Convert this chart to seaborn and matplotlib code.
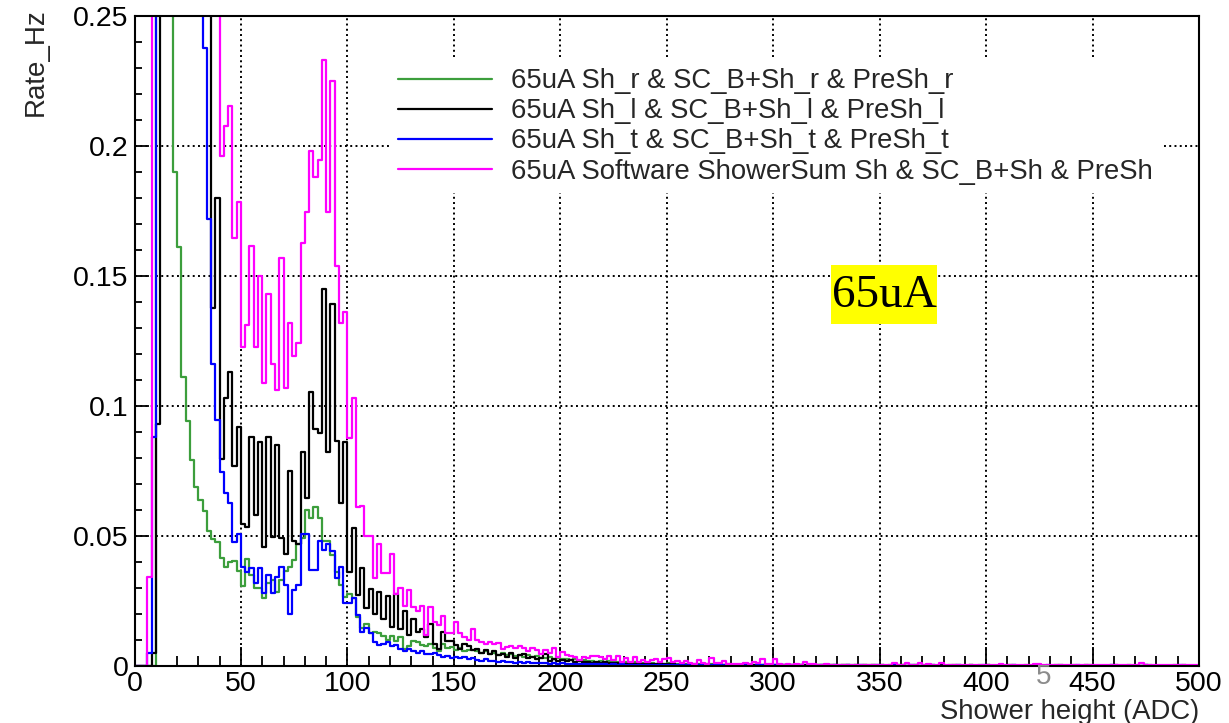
import numpy as np
import pandas as pd
import matplotlib
matplotlib.use("Agg")
import matplotlib.pyplot as plt
from matplotlib.lines import Line2D
from matplotlib.patches import Rectangle
from matplotlib.ticker import MultipleLocator
import seaborn as sns

# Shower height binning: 2 ADC wide bins from 0 to 500
bin_edges = np.arange(0, 502, 2)
bin_centers = bin_edges[:-1] + 1.0

# Rates (Hz) per bin, ten bins per row
rate_sh_r = [
    0, 0, 0, 0, 0, 0.85, 1.10, 0.80, 0.45, 0.190,
    0.161, 0.111, 0.094, 0.079, 0.0686, 0.0637, 0.0596, 0.0519, 0.0486, 0.0476,
    0.0415, 0.0378, 0.0400, 0.0404, 0.0365, 0.0305, 0.0410, 0.0350, 0.0297, 0.0300,
    0.0260, 0.0317, 0.0330, 0.0285, 0.0330, 0.0365, 0.0380, 0.0406, 0.0470, 0.0490,
    0.0600, 0.0567, 0.0610, 0.0570, 0.0480, 0.0478, 0.0426, 0.0360, 0.0310, 0.0265,
    0.0276, 0.0260, 0.0188, 0.0144, 0.0160, 0.0124, 0.0130, 0.0125, 0.0113, 0.0099,
    0.0115, 0.0095, 0.0112, 0.0065, 0.0075, 0.0095, 0.0093, 0.0080, 0.0077, 0.0085,
    0.0068, 0.0058, 0.0085, 0.0068, 0.0072, 0.0062, 0.0068, 0.0055, 0.0060, 0.0062,
    0.0055, 0.0050, 0.0058, 0.0045, 0.0050, 0.0042, 0.0048, 0.0040, 0.0045, 0.0038,
    0.0040, 0.0035, 0.0042, 0.0033, 0.0038, 0.0030, 0.0028, 0.0032, 0.0026, 0.0029,
    0.0024, 0.0027, 0.0021, 0.0025, 0.0019, 0.0022, 0.0018, 0.0020, 0.0016, 0.0019,
    0.0015, 0.0018, 0.0014, 0.0016, 0.0012, 0.0015, 0.0011, 0.0013, 0.0010, 0.0012,
    0.0009, 0.0011, 0.0008, 0.0010, 0.0007, 0.0009, 0.0007, 0.0008, 0.0006, 0.0008,
    0.0006, 0.0007, 0.0005, 0.0006, 0.0005, 0.0006, 0.0004, 0.0005, 0.0004, 0.0005,
    0.0004, 0.0003, 0.0004, 0.0003, 0.0004, 0.0003, 0.0004, 0.0002, 0.0003, 0.0002,
    0.0003, 0.0002, 0.0002, 0.0003, 0.0002, 0.0001, 0.0002, 0.0002, 0.0001, 0.0002,
    0.0001, 0.0002, 0.0001, 0.0001, 0.0002, 0.0001, 0.0001, 0.0001, 0.0002, 0.0001,
    0.0001, 0.0001, 0.0001, 0.0002, 0.0001, 0.0001, 0, 0.0001, 0.0001, 0.0001,
    0.0001, 0, 0.0001, 0.0001, 0, 0.0001, 0, 0.0001, 0, 0.0001,
    0, 0.0001, 0, 0.0001, 0, 0, 0.0001, 0, 0.0001, 0,
    0.0001, 0, 0, 0.0001, 0, 0, 0.0001, 0, 0, 0.0001,
    0, 0, 0.0001, 0, 0, 0, 0.0001, 0, 0, 0,
    0.0001, 0, 0, 0, 0.0001, 0, 0, 0, 0, 0.0001,
    0, 0, 0, 0.0001, 0, 0, 0, 0, 0.0001, 0,
    0, 0, 0, 0, 0.0001, 0, 0, 0, 0, 0,
]

rate_sh_l = [
    0, 0, 0, 0, 0.005, 0.093, 0.75, 1.10, 1.00, 0.80,
    0.62, 0.50, 0.42, 0.36, 0.32, 0.29, 0.27, 0.26, 0.1376, 0.1800,
    0.0795, 0.1030, 0.1130, 0.0770, 0.0920, 0.0545, 0.0532, 0.0878, 0.0580, 0.0860,
    0.0458, 0.0880, 0.0496, 0.0850, 0.0490, 0.0430, 0.0750, 0.0480, 0.0470, 0.0823,
    0.0645, 0.1052, 0.0909, 0.0894, 0.1450, 0.0823, 0.1390, 0.0865, 0.0625, 0.0862,
    0.0362, 0.0528, 0.0272, 0.0375, 0.0222, 0.0294, 0.0200, 0.0285, 0.0180, 0.0270,
    0.0150, 0.0275, 0.0140, 0.0210, 0.0120, 0.0180, 0.0130, 0.0140, 0.0110, 0.0160,
    0.0085, 0.0065, 0.0130, 0.0095, 0.0095, 0.0080, 0.0065, 0.0085, 0.0075, 0.0060,
    0.0065, 0.0050, 0.0060, 0.0045, 0.0055, 0.0040, 0.0045, 0.0035, 0.0050, 0.0030,
    0.0040, 0.0045, 0.0030, 0.0035, 0.0025, 0.0030, 0.0045, 0.0020, 0.0025, 0.0020,
    0.0022, 0.0018, 0.0022, 0.0015, 0.0018, 0.0014, 0.0016, 0.0012, 0.0015, 0.0011,
    0.0013, 0.0010, 0.0012, 0.0009, 0.0011, 0.0008, 0.0010, 0.0007, 0.0009, 0.0006,
    0.0008, 0.0006, 0.0007, 0.0005, 0.0006, 0.0005, 0.0005, 0.0004, 0.0005, 0.0004,
    0.0003, 0.0004, 0.0003, 0.0003, 0.0004, 0.0002, 0.0003, 0.0003, 0.0002, 0.0003,
    0.0002, 0.0003, 0.0002, 0.0002, 0.0003, 0.0002, 0.0002, 0.0001, 0.0002, 0.0002,
    0.0001, 0.0002, 0.0001, 0.0001, 0.0002, 0.0001, 0.0001, 0.0001, 0.0002, 0.0001,
    0.0001, 0.0001, 0, 0.0001, 0.0001, 0, 0.0001, 0.0001, 0, 0.0001,
    0, 0.0001, 0, 0.0001, 0, 0.0001, 0, 0, 0.0001, 0,
    0.0001, 0, 0, 0.0001, 0, 0, 0.0001, 0, 0, 0.0001,
    0, 0, 0.0001, 0, 0, 0, 0.0001, 0, 0, 0,
    0.0001, 0, 0, 0, 0, 0.0001, 0, 0, 0, 0,
    0, 0.0001, 0, 0, 0, 0, 0, 0.0001, 0, 0,
    0, 0, 0, 0.0001, 0, 0, 0, 0, 0, 0,
    0.0001, 0, 0, 0, 0, 0, 0, 0.0001, 0, 0,
    0, 0, 0, 0, 0, 0, 0.0001, 0, 0, 0,
]

rate_sh_t = [
    0, 0, 0, 0.005, 0.088, 0.90, 1.30, 1.20, 0.95, 0.75,
    0.60, 0.50, 0.42, 0.36, 0.31, 0.27, 0.2375, 0.172, 0.116, 0.0945,
    0.0745, 0.0666, 0.0624, 0.0475, 0.0506, 0.0380, 0.0360, 0.0375, 0.0320, 0.0374,
    0.0278, 0.0350, 0.0278, 0.0340, 0.0380, 0.0310, 0.0200, 0.0290, 0.0310, 0.0505,
    0.0505, 0.0370, 0.0370, 0.0478, 0.0445, 0.0470, 0.0440, 0.0336, 0.0380, 0.0240,
    0.0240, 0.0260, 0.0195, 0.0130, 0.0144, 0.0124, 0.0092, 0.0080, 0.0083, 0.0090,
    0.0075, 0.0078, 0.0065, 0.0055, 0.0065, 0.0055, 0.0050, 0.0055, 0.0045, 0.0045,
    0.0048, 0.0040, 0.0035, 0.0038, 0.0030, 0.0035, 0.0030, 0.0032, 0.0025, 0.0028,
    0.0022, 0.0020, 0.0025, 0.0018, 0.0020, 0.0015, 0.0018, 0.0014, 0.0016, 0.0012,
    0.0014, 0.0011, 0.0013, 0.0010, 0.0012, 0.0009, 0.0011, 0.0008, 0.0010, 0.0008,
    0.0009, 0.0007, 0.0008, 0.0006, 0.0007, 0.0006, 0.0007, 0.0005, 0.0006, 0.0005,
    0.0005, 0.0004, 0.0005, 0.0004, 0.0005, 0.0004, 0.0003, 0.0004, 0.0003, 0.0004,
    0.0003, 0.0003, 0.0002, 0.0003, 0.0002, 0.0002, 0.0003, 0.0002, 0.0002, 0.0002,
    0.0001, 0.0002, 0.0002, 0.0001, 0.0002, 0.0001, 0.0001, 0.0002, 0.0001, 0.0001,
    0.0001, 0.0001, 0.0002, 0.0001, 0.0001, 0, 0.0001, 0.0001, 0, 0.0001,
    0.0001, 0, 0.0001, 0, 0.0001, 0, 0.0001, 0, 0, 0.0001,
    0, 0.0001, 0, 0, 0.0001, 0, 0, 0.0001, 0, 0,
    0.0001, 0, 0, 0, 0.0001, 0, 0, 0, 0.0001, 0,
    0, 0, 0.0001, 0, 0, 0, 0, 0.0001, 0, 0,
    0, 0, 0, 0.0001, 0, 0, 0, 0, 0, 0.0001,
    0, 0, 0, 0, 0, 0, 0.0001, 0, 0, 0,
    0, 0, 0, 0, 0.0001, 0, 0, 0, 0, 0,
    0, 0.0001, 0, 0, 0, 0, 0, 0, 0, 0.0001,
    0, 0, 0, 0, 0, 0, 0, 0.0001, 0, 0,
    0, 0, 0, 0, 0, 0.0001, 0, 0, 0, 0,
]

rate_sum = [
    0, 0, 0, 0.034, 0.95, 1.60, 2.00, 1.90, 1.60, 1.25,
    1.00, 0.82, 0.68, 0.58, 0.50, 0.44, 0.39, 0.34, 0.30, 0.27,
    0.1960, 0.2077, 0.2153, 0.1644, 0.1785, 0.1227, 0.1310, 0.1614, 0.1227, 0.1500,
    0.1086, 0.1430, 0.1160, 0.1060, 0.1570, 0.1067, 0.1320, 0.1190, 0.1240, 0.1625,
    0.1746, 0.1980, 0.1880, 0.1946, 0.2330, 0.1746, 0.2249, 0.1537, 0.1317, 0.1360,
    0.0875, 0.1028, 0.0610, 0.0613, 0.0500, 0.0500, 0.0337, 0.0470, 0.0355, 0.0355,
    0.0430, 0.0276, 0.0300, 0.0230, 0.0290, 0.0226, 0.0210, 0.0230, 0.0120, 0.0226,
    0.0169, 0.0156, 0.0190, 0.0127, 0.0127, 0.0170, 0.0127, 0.0110, 0.0100, 0.0140,
    0.0099, 0.0090, 0.0085, 0.0090, 0.0085, 0.0086, 0.0063, 0.0073, 0.0077, 0.0070,
    0.0077, 0.0070, 0.0058, 0.0067, 0.0060, 0.0045, 0.0060, 0.0047, 0.0067, 0.0035,
    0.0054, 0.0041, 0.0038, 0.0035, 0.0022, 0.0032, 0.0028, 0.0037, 0.0037, 0.0035,
    0.0024, 0.0037, 0.0022, 0.0037, 0.0015, 0.0031, 0.0015, 0.0032, 0.0015, 0.0022,
    0.0015, 0.0022, 0.0025, 0.0015, 0.0025, 0.0030, 0.0015, 0.0020, 0.0012, 0.0018,
    0.0012, 0.0008, 0.0022, 0.0010, 0.0008, 0.0028, 0.0010, 0.0012, 0.0020, 0.0008,
    0.0006, 0.0005, 0.0008, 0.0012, 0.0006, 0.0015, 0.0010, 0.0026, 0.0008, 0.0006,
    0.0024, 0.0006, 0.0004, 0.0005, 0.0004, 0.0006, 0.0003, 0.0016, 0.0008, 0.0005,
    0.0004, 0.0003, 0.0005, 0.0002, 0.0004, 0.0003, 0.0002, 0.0004, 0.0003, 0.0002,
    0.0003, 0.0004, 0.0002, 0.0003, 0.0002, 0.0003, 0.0002, 0.0004, 0.0012, 0.0003,
    0.0002, 0.0010, 0.0004, 0.0002, 0.0009, 0.0003, 0.0008, 0.0002, 0.0003, 0.0009,
    0.0002, 0.0003, 0.0002, 0.0004, 0.0002, 0.0003, 0.0002, 0.0003, 0.0002, 0.0004,
    0.0002, 0.0003, 0.0002, 0.0006, 0.0002, 0.0003, 0.0002, 0.0003, 0.0002, 0.0003,
    0.0002, 0.0006, 0.0008, 0.0002, 0.0003, 0.0002, 0.0003, 0.0002, 0.0002, 0.0003,
    0.0002, 0.0002, 0.0003, 0.0002, 0.0002, 0.0003, 0.0002, 0.0002, 0.0003, 0.0002,
    0.0002, 0.0003, 0.0002, 0.0002, 0.0003, 0.0002, 0.0009, 0.0003, 0.0002, 0.0002,
    0.0003, 0.0002, 0.0002, 0.0002, 0.0003, 0.0002, 0.0002, 0.0003, 0.0002, 0.0002,
]

series_labels = [
    "65uA Sh_r & SC_B+Sh_r & PreSh_r",
    "65uA Sh_l & SC_B+Sh_l & PreSh_l",
    "65uA Sh_t & SC_B+Sh_t & PreSh_t",
    "65uA Software ShowerSum Sh & SC_B+Sh & PreSh",
]
series_rates = [rate_sh_r, rate_sh_l, rate_sh_t, rate_sum]
series_colors = ["#3c9e3c", "#000000", "#0000ff", "#ff00ff"]

sns.set_style("white")
plt.rcParams["font.family"] = ["Liberation Sans", "DejaVu Sans"]

fig = plt.figure(figsize=(12.29, 7.23), dpi=100)
ax = fig.add_axes([0.10944, 0.07925, 0.86615, 0.89903])

for rates, color, label in zip(series_rates, series_colors, series_labels):
    frame = pd.DataFrame({"adc": bin_centers, "rate": np.asarray(rates, dtype=float)})
    sns.histplot(data=frame, x="adc", weights="rate", bins=list(bin_edges),
                 element="step", fill=False, color=color, linewidth=1.6, ax=ax)

ax.set_xlim(0, 500)
ax.set_ylim(0, 0.25)
ax.set_xticks(np.arange(0, 501, 50))
ax.set_xticklabels([f"{v:g}" for v in np.arange(0, 501, 50)])
ax.set_yticks([0, 0.05, 0.1, 0.15, 0.2, 0.25])
ax.set_yticklabels(["0", "0.05", "0.1", "0.15", "0.2", "0.25"])
ax.xaxis.set_minor_locator(MultipleLocator(10))
ax.yaxis.set_minor_locator(MultipleLocator(0.01))

ax.tick_params(axis="both", which="both", direction="in", labelsize=20.5,
               colors="black", top=False, right=False, bottom=True, left=True)
ax.tick_params(axis="x", which="major", length=13.5, width=1.3, pad=4.0)
ax.tick_params(axis="x", which="minor", length=7, width=1.3)
ax.tick_params(axis="y", which="major", length=10, width=1.3, pad=4.5)
ax.tick_params(axis="y", which="minor", length=5, width=1.3)

for side in ["left", "right", "top", "bottom"]:
    ax.spines[side].set_visible(True)
    ax.spines[side].set_color("black")
    ax.spines[side].set_linewidth(1.5)

ax.grid(True, which="major", color="black", linestyle=(0, (1, 1.7)), linewidth=1.4)
ax.set_axisbelow(True)

ax.set_xlabel("Shower height (ADC)", fontsize=19.8, loc="right", labelpad=1)
ax.set_ylabel("Rate_Hz", fontsize=20, loc="top", labelpad=17.5)
ax.yaxis.label.set_y(1.012)

handles = [Line2D([0], [0], color=c, linewidth=1.6) for c in series_colors]
leg = ax.legend(handles, series_labels, loc="upper left",
                bbox_to_anchor=(390 / 1229, 1 - 60 / 723),
                bbox_transform=fig.transFigure, fontsize=19.8, frameon=True,
                fancybox=False, framealpha=1, facecolor="white",
                edgecolor="white", handlelength=3.4, handletextpad=0.7,
                labelspacing=0.15, borderpad=0.3, borderaxespad=0)
leg.get_frame().set_linewidth(0)
leg.set_zorder(5)

# Yellow tag with the beam current
tag_box = Rectangle((831 / 1229, 1 - 324 / 723), 106 / 1229, 59 / 723,
                    transform=fig.transFigure, facecolor="#ffff00",
                    edgecolor="none", zorder=6)
fig.patches.append(tag_box)
fig.text(884 / 1229, 1 - 296 / 723, "65uA", family="Liberation Serif",
         fontsize=34, color="black", ha="center", va="center", zorder=7)

fig.text(1044 / 1229, 1 - 677 / 723, "5", color="#8c8c8c", fontsize=20,
         ha="center", va="center")

fig.savefig("out.png", dpi=100)
